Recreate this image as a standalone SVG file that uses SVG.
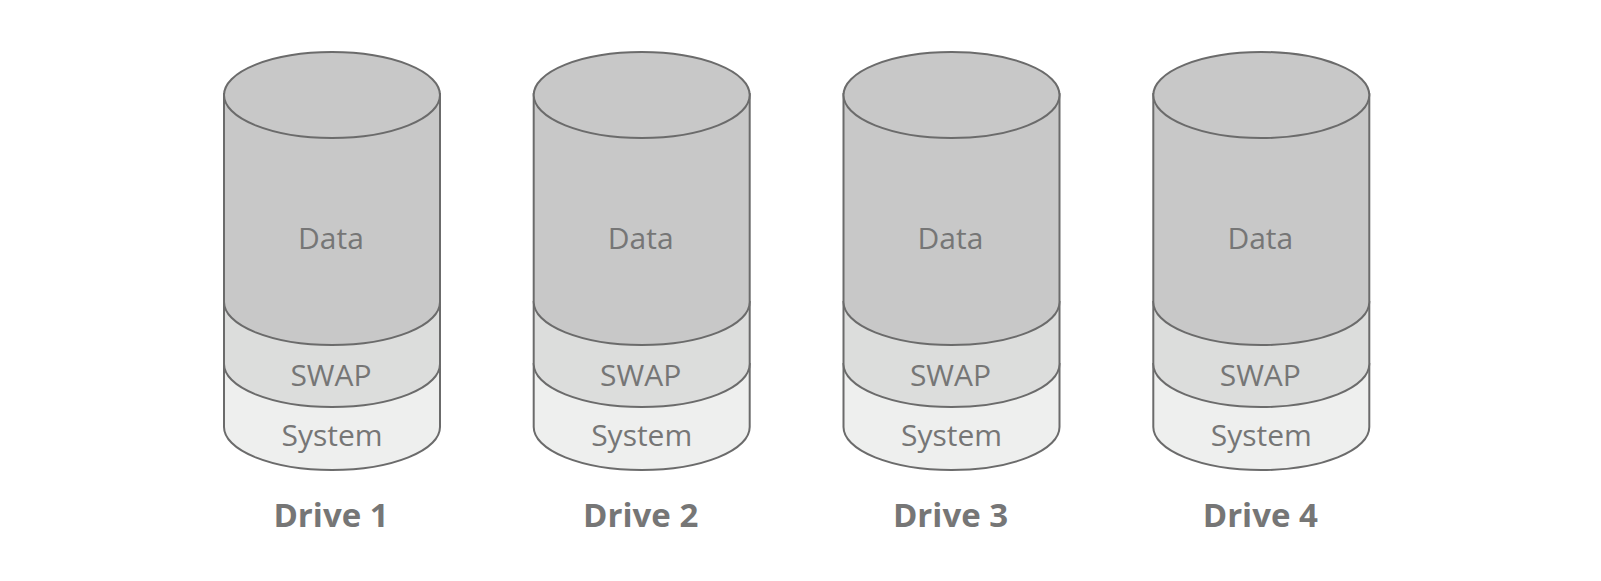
<svg xmlns="http://www.w3.org/2000/svg" xmlns:xlink="http://www.w3.org/1999/xlink" width="1601" height="581" viewBox="0 0 1601 581">
<style>
.s{stroke:#6b6b6b;stroke-width:2}
.data{fill:#c8c8c8}
.swap{fill:#dcdddc}
.sys{fill:#eeefee}
.t{font-family:"Open Sans","Liberation Sans",sans-serif;font-size:30px;fill:#767676;text-anchor:middle}
.l{font-family:"Open Sans","Liberation Sans",sans-serif;font-size:33px;font-weight:bold;fill:#767676;text-anchor:middle}
</style>
<defs>
<g id="cyl">
<path class="s sys" d="M-108,364 L-108,427 A108,43 0 0 0 108,427 L108,364 Z"/>
<path class="s swap" d="M-108,302 L-108,364 A108,43 0 0 0 108,364 L108,302 Z"/>
<path class="s data" d="M-108,94 L-108,302 A108,43 0 0 0 108,302 L108,94 Z"/>
<ellipse class="s data" cx="0" cy="95" rx="108" ry="43"/>
<text class="t" x="-1" y="249">Data</text>
<text class="t" x="-1" y="386">SWAP</text>
<text class="t" x="0" y="446">System</text>
</g>
</defs>
<g id="drive1" transform="translate(332,0)"><use xlink:href="#cyl"/><text class="l" x="-1" y="527">Drive 1</text></g>
<g id="drive2" transform="translate(641.7,0)"><use xlink:href="#cyl"/><text class="l" x="-1" y="527">Drive 2</text></g>
<g id="drive3" transform="translate(951.5,0)"><use xlink:href="#cyl"/><text class="l" x="-1" y="527">Drive 3</text></g>
<g id="drive4" transform="translate(1261.3,0)"><use xlink:href="#cyl"/><text class="l" x="-1" y="527">Drive 4</text></g>
<g id="connectors"/>
</svg>
